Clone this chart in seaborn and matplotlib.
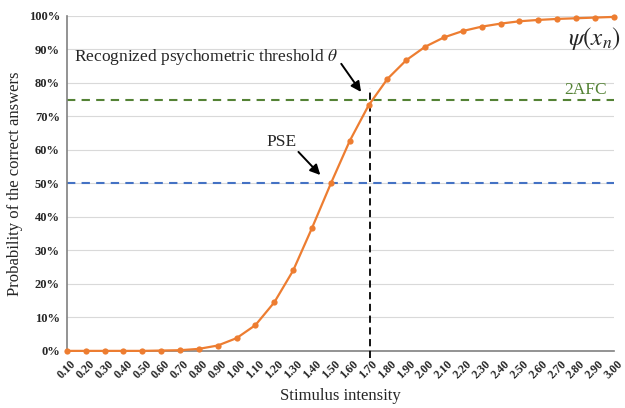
import pandas as pd
import seaborn as sns
import matplotlib
matplotlib.use("Agg")
import matplotlib.pyplot as plt
from matplotlib.ticker import PercentFormatter

# --- DATA ---
intensity = [0.10, 0.20, 0.30, 0.40, 0.50, 0.60, 0.70, 0.80, 0.90, 1.00,
             1.10, 1.20, 1.30, 1.40, 1.50, 1.60, 1.70, 1.80, 1.90, 2.00,
             2.10, 2.20, 2.30, 2.40, 2.50, 2.60, 2.70, 2.80, 2.90, 3.00]
prob = [0.000, 0.000, 0.000, 0.000, 0.000, 0.001, 0.002, 0.006, 0.016, 0.038,
        0.077, 0.145, 0.240, 0.367, 0.500, 0.627, 0.733, 0.812, 0.868, 0.908,
        0.936, 0.955, 0.968, 0.977, 0.984, 0.988, 0.991, 0.993, 0.995, 0.997]
pse_level = 0.50
afc_level = 0.75
threshold_x = 1.71

df = pd.DataFrame({"intensity": intensity, "prob": prob})

sns.set_style("white")
plt.rcParams["font.family"] = ["Liberation Serif", "DejaVu Serif"]
plt.rcParams["mathtext.fontset"] = "stix"

fig = plt.figure(figsize=(6.25, 4.08), dpi=100)
ax = fig.add_axes([0.107, 0.140, 0.875, 0.821])

# light grid
for v in [0.1 * i for i in range(1, 11)]:
    ax.axhline(v, color="#d9d9d9", lw=0.8, zorder=0)

ax.axhline(pse_level, color="#4472C4", lw=1.5, ls=(0, (4, 3)), zorder=1)
ax.axhline(afc_level, color="#548235", lw=1.5, ls=(0, (4, 3)), zorder=1)
ax.plot([threshold_x, threshold_x], [-0.02, 0.785], color="black", lw=1.3,
        ls=(0, (4, 2.5)), zorder=3, clip_on=False)

sns.lineplot(data=df, x="intensity", y="prob", ax=ax, color="#ED7D31",
             lw=1.6, marker="o", markersize=4.5, markeredgewidth=0, zorder=4,
             clip_on=False)

ax.set_xlim(0.1, 3.0)
ax.set_ylim(0, 1.0)
ax.set_xticks(intensity)
ax.set_xticklabels([f"{v:.2f}" for v in intensity], rotation=45,
                   ha="center", fontsize=8.5, fontweight="bold")
ax.set_yticks([0.1 * i for i in range(11)])
ax.yaxis.set_major_formatter(PercentFormatter(1.0, decimals=0))
for lab in ax.get_yticklabels():
    lab.set_fontweight("bold")
    lab.set_fontsize(9)
ax.tick_params(axis="x", direction="out", length=4, color="#808080", pad=1)
ax.tick_params(axis="y", direction="out", length=3, color="#808080", pad=2)

for s in ["top", "right"]:
    ax.spines[s].set_visible(False)
for s in ["left", "bottom"]:
    ax.spines[s].set_color("#808080")
    ax.spines[s].set_linewidth(1.2)

ax.set_xlabel("Stimulus intensity", fontsize=12, labelpad=5)
ax.set_ylabel("Probability of the correct answers", fontsize=12, labelpad=4)

arrow = dict(arrowstyle="-|>,head_width=0.3,head_length=0.6",
             color="black", lw=1.4, shrinkA=0, shrinkB=0)
ax.text(0.14, 0.877, r"Recognized psychometric threshold $\theta$",
        fontsize=12.5, va="center", ha="left")
ax.annotate("", xy=(1.66, 0.773), xytext=(1.555, 0.857), arrowprops=arrow)
ax.text(1.16, 0.624, "PSE", fontsize=12.5, va="center", ha="left")
ax.annotate("", xy=(1.444, 0.525), xytext=(1.328, 0.594), arrowprops=arrow)
ax.text(2.74, 0.779, "2AFC", fontsize=12.5, color="#548235", va="center")
ax.text(3.04, 0.934, r"$\psi(x_n)$", fontsize=18, va="center", ha="right")

fig.savefig("out.png", dpi=100)
